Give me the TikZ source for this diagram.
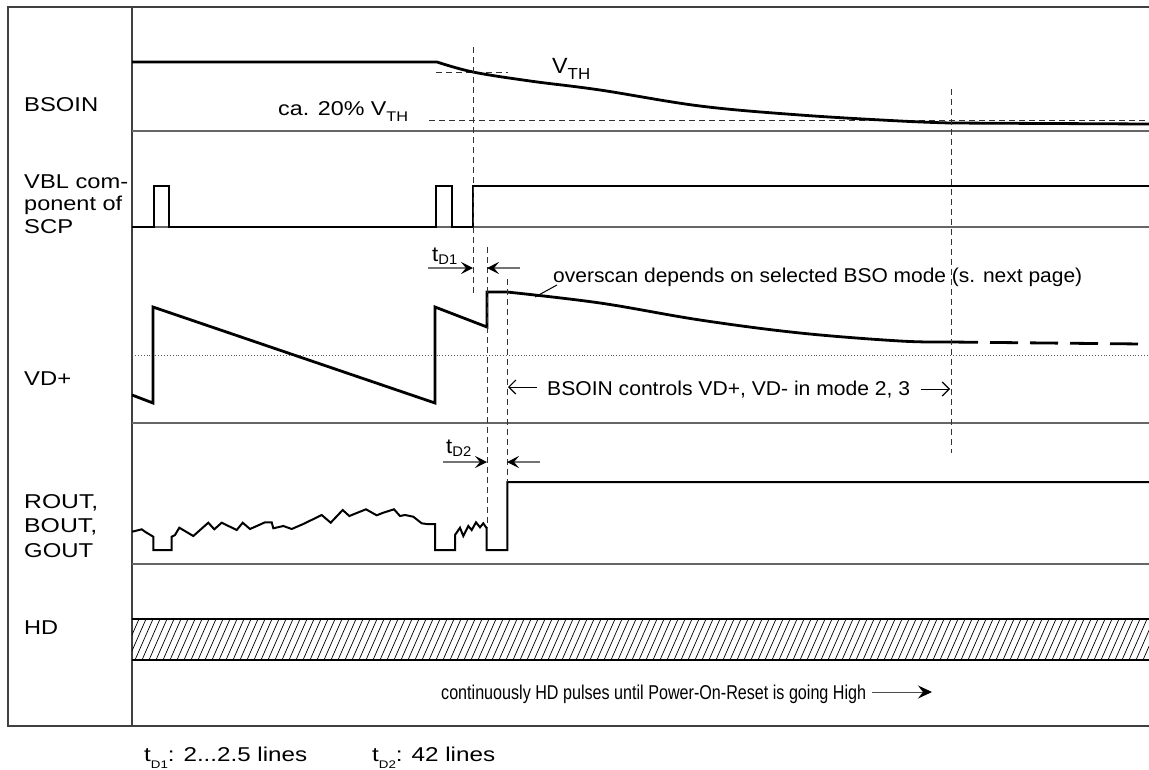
\documentclass[tikz,border=0pt]{standalone}
\usepackage{fontspec}
\setmainfont{Liberation Sans}
\usetikzlibrary{arrows.meta}
\newcommand\fw[2]{\resizebox{#1pt}{\height}{#2}}
\newcommand\mysub[3]{\raisebox{-#1pt}{\fontsize{#2}{#2}\selectfont #3}}
\begin{document}
\begin{tikzpicture}[x=1pt,y=-1pt,
  frame/.style={line width=1.3pt, draw=black!75},
  sep/.style={line width=1.3pt, draw=black!60},
  sig/.style={line width=2.8pt, line join=miter},
  thinsig/.style={line width=2pt, line join=miter},
  vdash/.style={line width=1pt, draw=black!80, dash pattern=on 6pt off 4pt},
  lbl/.style={font=\fontsize{20}{22}\selectfont, inner sep=0pt, anchor=base west},
  tarrow/.style={line width=1.3pt, draw=black!55, -{Stealth[black,length=12pt,width=12pt,inset=5pt]}},
  barrow/.style={line width=1pt, draw=black, -{Straight Barb[length=7pt,width=14pt,line width=1.2pt]}},
  larrow/.style={line width=1pt, draw=black!70, -{Stealth[black,length=14pt,width=13pt,inset=5pt]}}
]
\useasboundingbox (0,0) rectangle (1149,769);
\fill[white] (0,0) rectangle (1149,769);

% frame
\draw[frame] (1149,7) -- (8,7) -- (8,726) -- (1149,726);
\draw[frame] (132,7) -- (132,726);
\foreach \yy in {131,227,423,564} \draw[sep] (132,\yy) -- (1149,\yy);
\draw[line width=0.9pt, draw=black!65, dotted] (132,355) -- (1149,355);

% labels
\node[lbl] (lbsoin) at (24,111) {\fw{74}{BSOIN}};
\node[lbl] (lvbl1) at (24,188) {\fw{104}{VBL com-}};
\node[lbl] (lvbl2) at (24,210.5) {\fw{98}{ponent of}};
\node[lbl] (lvbl3) at (24,233) {\fw{49}{SCP}};
\node[lbl] (lvd) at (24,385) {\fw{47}{VD+}};
\node[lbl] (lr1) at (24,508) {\fw{74}{ROUT,}};
\node[lbl] (lr2) at (24,532) {\fw{73}{BOUT,}};
\node[lbl] (lr3) at (24,557) {\fw{69}{GOUT}};
\node[lbl] (lhd) at (24,634) {\fw{34}{HD}};

% BSOIN
\draw[vdash] (429,120) -- (1149,120);
\draw[vdash] (436,72) -- (508,72);
\draw[sig] (132,62) -- (437,62) -- plot[smooth, tension=0.6] coordinates {(437,62)(473,72)(530,81)(600,90)(700,106)(800,115)(900,121)(950,123)} -- (1149,124);
\node[lbl] (l20) at (278,115) {\fw{130}{ca. 20\% V\mysub{6}{14}{TH}}};
\node[lbl, font=\fontsize{22}{22}\selectfont] (lvth) at (552,73) {\fw{38}{V\mysub{6}{16}{TH}}};

% VBL
\draw[sig] (132,227) -- (154,227) -- (154,186) -- (169,186) -- (169,227) -- (436,227) -- (436,186) -- (452,186) -- (452,227) -- (473,227) -- (473,186) -- (1149,186);

% VD+
\draw[sig] (132,395) -- (153,403) -- (153,307) -- (435,403) -- (435,307) -- (487,327) -- (487,292) -- (507,292) -- plot[smooth, tension=0.6] coordinates {(507,292)(600,303)(700,320)(800,333)(900,341)(950,342)};
\draw[sig, dash pattern=on 28pt off 12pt] (950,342) -- (1142,344);

% ROUT
\draw[thinsig] plot coordinates {(132.3,531.7)(141.7,529.3)(145,531.7)(153.3,536.7)(153.3,550)(171.7,550)(171.7,536.7)(175,535)(179.3,527.7)(193.3,536)(208.3,522.7)(214.3,529.3)(221.7,522.7)(236.7,530)(242.7,522.7)(250,529)(265,522.3)(271.7,522.3)(273.3,528.3)(283.3,526)(291.7,529)(303.3,524)(321.7,515)(330.7,522.7)(342.7,510)(349.3,516)(366,509.3)(376.7,515.3)(383.3,512.7)(394,509.3)(400,516)(405,515)(413.3,516.7)(421.7,523.3)(426.7,524)(435,524)(435,550)(455,550)(455,535)(460,527.7)(463.3,536)(468.3,526)(471.7,530)(476,522.3)(480,527.3)(483.3,523.3)(486.7,528.3)(486.7,550)(507.3,550)(507.3,482)} -- (1149,482);

% HD band
\begin{scope}
\clip (132,619) rectangle (1149,660);
\foreach \xx in {100,107,...,1165} \draw[line width=0.7pt] (\xx,660) -- ++(18,-41);
\end{scope}
\draw[sig] (132,619) -- (1149,619);
\draw[sig] (132,660) -- (1149,660);

% vertical dashed lines
\draw[vdash] (473,47) -- (473,293);
\draw[vdash] (487,247) -- (487,528);
\draw[vdash] (507,279) -- (507,482);
\draw[vdash] (951,89) -- (951,453);

% tD1
\node[lbl] (td1) at (432,261) {\fw{25}{{\fontsize{21}{21}\selectfont t}\mysub{3}{14}{D1}}};
\coordinate (d1a) at (428,268); \coordinate (d1b) at (473,268);
\coordinate (d1c) at (520,268); \coordinate (d1d) at (487,268);
\draw[tarrow] (d1a) -- (d1b);
\draw[tarrow] (d1c) -- (d1d);

% tD2
\node[lbl] (td2) at (446,453) {\fw{25}{{\fontsize{21}{21}\selectfont t}\mysub{3}{14}{D2}}};
\coordinate (d2a) at (443,462); \coordinate (d2b) at (487,462);
\coordinate (d2c) at (540,462); \coordinate (d2d) at (507,462);
\draw[tarrow] (d2a) -- (d2b);
\draw[tarrow] (d2c) -- (d2d);

% overscan
\node[lbl] (ovs) at (553,282) {\fw{529}{overscan depends on selected BSO mode (s. next page)}};
\coordinate (ovc) at (535,297);
\draw[line width=1pt] (ovc) -- (557,285);

% BSOIN controls
\node[lbl] (ctl) at (547,395) {\fw{363}{BSOIN controls VD+, VD- in mode 2, 3}};
\coordinate (c1a) at (537,387); \coordinate (c1b) at (508,387);
\coordinate (c2a) at (921,389); \coordinate (c2b) at (950,389);
\draw[barrow] (c1a) -- (c1b);
\draw[barrow] (c2a) -- (c2b);

% continuously
\node[lbl] (cont) at (441,699) {\fw{425}{continuously HD pulses until Power-On-Reset is going High}};
\coordinate (ca) at (872,692); \coordinate (cb) at (932,692);
\draw[larrow] (ca) -- (cb);

% bottom notes
\node[lbl] (n1) at (144,761) {\fw{163}{t\mysub{7}{11}{D1}: 2...2.5 lines}};
\node[lbl] (n2) at (372,761) {\fw{123}{t\mysub{7}{11}{D2}: 42 lines}};
\end{tikzpicture}
\end{document}
